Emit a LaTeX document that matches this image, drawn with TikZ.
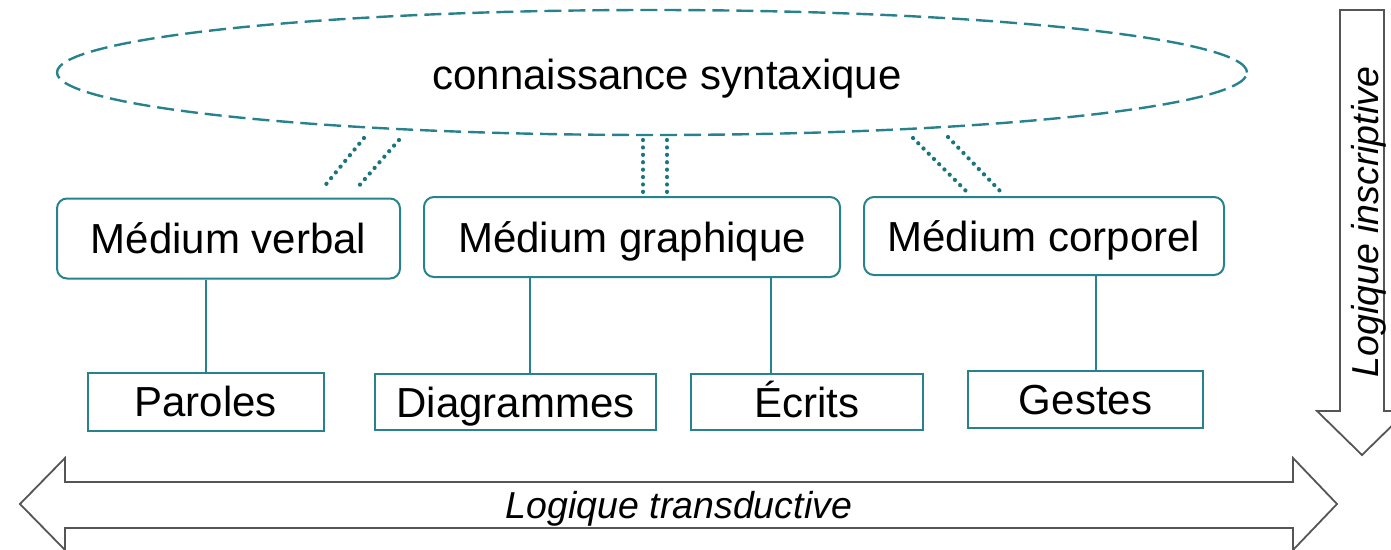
\documentclass[tikz,border=0pt]{standalone}
\usepackage{fontspec}
\setmainfont{Liberation Sans}
\usetikzlibrary{shapes.geometric,calc}
\definecolor{tealc}{RGB}{40,130,142}
\definecolor{tealdot}{RGB}{25,118,128}
\definecolor{arrowgray}{RGB}{85,85,85}
\tikzset{
  txt/.style={font=\fontsize{42}{50}\selectfont, text height=30pt, text depth=0pt, inner sep=0pt},
  medium/.style={txt, draw=tealc, line width=2pt, rounded corners=10pt},
  leaf/.style={txt, draw=tealc, line width=2pt},
  link/.style={draw=tealc, line width=1.6pt},
  dotlink/.style={draw=tealdot, line width=4.2pt, line cap=round, dash pattern=on 0.1pt off 7.3pt},
  bigarrow/.style={draw=arrowgray, line width=1.8pt, fill=white, line join=miter},
  arrowtext/.style={font=\fontsize{37.5}{45}\selectfont\itshape, text height=27pt, text depth=0pt, inner sep=0pt}
}
\begin{document}
\begin{tikzpicture}[x=1pt,y=-1pt]
\useasboundingbox (0,0) rectangle (1391,549);
% ellipse
\node[ellipse, draw=tealc, line width=2.4pt, dash pattern=on 17pt off 7pt, minimum width=1190pt, minimum height=125pt, inner sep=0pt] (ell) at (652,72.5) {};
\node[txt] (synt) at (667,74) {connaissance syntaxique};
% media boxes
\node[medium, minimum width=343pt, minimum height=80pt] (verbal) at (228.5,238.5) {Médium verbal};
\node[medium, minimum width=416pt, minimum height=80pt] (graph) at (632,237) {Médium graphique};
\node[medium, minimum width=360pt, minimum height=78pt] (corp) at (1044,236) {Médium corporel};
% leaves
\node[leaf, minimum width=236pt, minimum height=58pt] (par) at (205.5,401.5) {Paroles};
\node[leaf, minimum width=281pt, minimum height=56pt] (diag) at (515.5,402) {Diagrammes};
\node[leaf, minimum width=232pt, minimum height=56pt] (ecr) at (807,402) {Écrits};
\node[leaf, minimum width=235pt, minimum height=57pt] (gest) at (1085.5,399.5) {Gestes};
% links
\draw[link] (par.north -| 206,0) -- (verbal.south -| 206,0);
\draw[link] ($(diag.north)+(14.5,0)$) coordinate (d1) -- (d1 |- graph.south);
\draw[link] ($(ecr.north)+(-36,0)$) coordinate (e1) -- (e1 |- graph.south);
\draw[link] ($(gest.north)+(10.5,0)$) coordinate (g1) -- (g1 |- corp.south);
% dotted double links
\coordinate (va1) at (364,138); \coordinate (vb1) at (323,188);
\coordinate (va2) at (399,140); \coordinate (vb2) at (357,188);
\coordinate (ga1) at (643,140); \coordinate (gb1) at (643,193);
\coordinate (ga2) at (667,140); \coordinate (gb2) at (667,193);
\coordinate (ca1) at (913,138); \coordinate (cb1) at (967,192);
\coordinate (ca2) at (948,137); \coordinate (cb2) at (1001,192);
\draw[dotlink] (va1) -- (vb1);
\draw[dotlink] (va2) -- (vb2);
\draw[dotlink] (ga1) -- (gb1);
\draw[dotlink] (ga2) -- (gb2);
\draw[dotlink] (ca1) -- (cb1);
\draw[dotlink] (ca2) -- (cb2);
% horizontal double arrow
\draw[bigarrow] (20,504) -- (65,458) -- (65,482) -- (1293,482) -- (1293,458) -- (1337,504) -- (1293,550) -- (1293,528) -- (65,528) -- (65,550) -- cycle;
\node[arrowtext] (trans) at (679,505) {Logique transductive};
% vertical down arrow
\draw[bigarrow] (1340,10) -- (1384,10) -- (1384,411) -- (1407,411) -- (1362,455) -- (1317,411) -- (1340,411) -- cycle;
\node[arrowtext, rotate=90] (insc) at (1365,222) {Logique inscriptive};
\end{tikzpicture}
\end{document}
